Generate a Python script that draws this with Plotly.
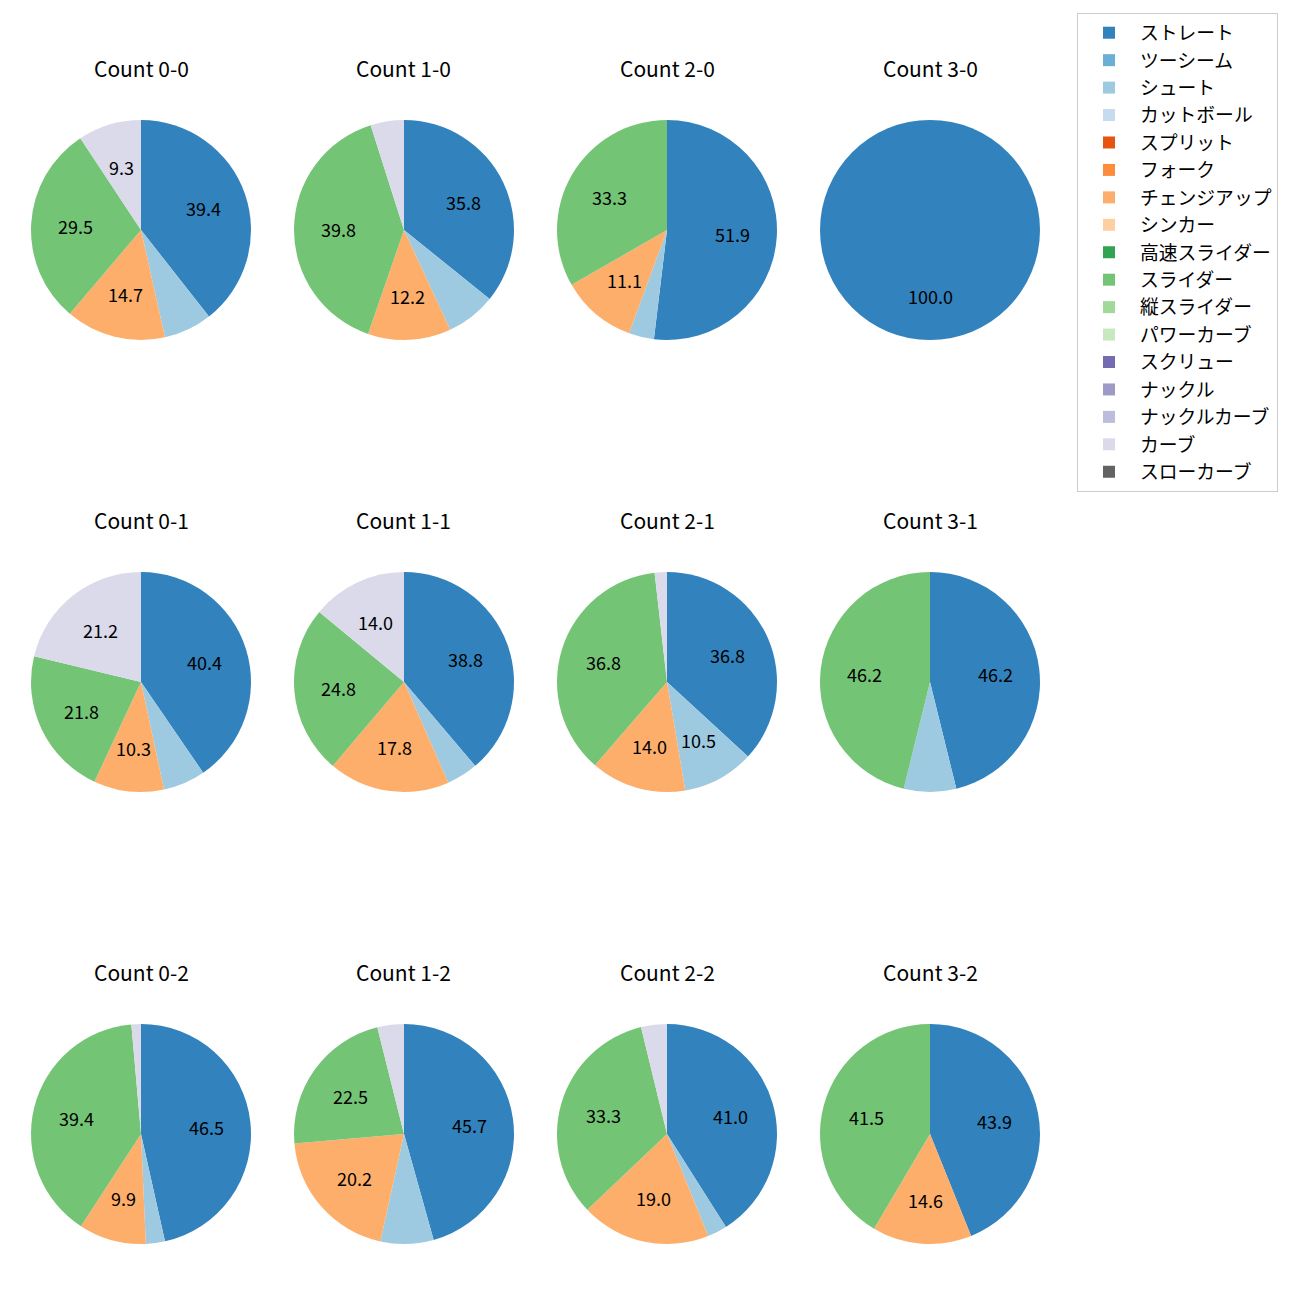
import math
import plotly.graph_objects as go

pitch_types = ["ストレート", "ツーシーム", "シュート", "カットボール", "スプリット", "フォーク",
               "チェンジアップ", "シンカー", "高速スライダー", "スライダー", "縦スライダー",
               "パワーカーブ", "スクリュー", "ナックル", "ナックルカーブ", "カーブ", "スローカーブ"]
colors = ["#3182bd", "#6baed6", "#9ecae1", "#c6dbef", "#e6550d", "#fd8d3c", "#fdae6b", "#fdd0a2",
          "#31a354", "#74c476", "#a1d99b", "#c7e9c0", "#756bb1", "#9e9ac8", "#bcbddc", "#dadaeb",
          "#636363"]

counts = ["0-0", "1-0", "2-0", "3-0",
          "0-1", "1-1", "2-1", "3-1",
          "0-2", "1-2", "2-2", "3-2"]

# percentages per count, order: straight, shoot, changeup, slider, curve
straight = [39.4, 35.8, 51.9, 100.0, 40.4, 38.8, 36.8, 46.2, 46.5, 45.7, 41.0, 43.9]
shoot    = [7.1, 7.3, 3.7, 0.0, 6.2, 4.6, 10.5, 7.7, 2.8, 7.8, 2.9, 0.0]
changeup = [14.7, 12.2, 11.1, 0.0, 10.3, 17.8, 14.0, 0.0, 9.9, 20.2, 19.0, 14.6]
slider   = [29.5, 39.8, 33.3, 0.0, 21.8, 24.8, 36.8, 46.2, 39.4, 22.5, 33.3, 41.5]
curve    = [9.3, 4.9, 0.0, 0.0, 21.2, 14.0, 1.8, 0.0, 1.4, 3.9, 3.8, 0.0]

label_threshold = 8.5

W, H = 1300, 1300
col_cx = [141, 404, 667, 930]
row_cy = [230, 682, 1134]
R = 110

fig = go.Figure()
annotations = []
for i, cnt in enumerate(counts):
    r, c = divmod(i, 4)
    cx, cy = col_cx[c], row_cy[r]
    vals = [0.0] * len(pitch_types)
    vals[0] = straight[i]
    vals[2] = shoot[i]
    vals[6] = changeup[i]
    vals[9] = slider[i]
    vals[15] = curve[i]
    fig.add_trace(go.Pie(
        labels=pitch_types, values=vals, sort=False, direction="clockwise", rotation=0,
        marker=dict(colors=colors, line=dict(width=0)),
        textinfo="none", hoverinfo="label+percent",
        domain=dict(x=[(cx - R) / W, (cx + R) / W], y=[1 - (cy + R) / H, 1 - (cy - R) / H]),
        showlegend=(i == 0),
    ))
    annotations.append(dict(text=f"Count {cnt}", x=cx / W, y=1 - (cy - 162) / H,
                            xref="paper", yref="paper", showarrow=False,
                            font=dict(size=21, color="#000000"), xanchor="center", yanchor="middle"))
    total = sum(vals)
    cum = 0.0
    for v in vals:
        if v > 0 and v / total * 100 >= label_threshold:
            mid = 90 - (cum + v / 2) / total * 360
            tx = cx + 0.6 * R * math.cos(math.radians(mid))
            ty = cy - 0.6 * R * math.sin(math.radians(mid))
            annotations.append(dict(text=f"{v / total * 100:.1f}", x=tx / W, y=1 - ty / H,
                                    xref="paper", yref="paper", showarrow=False,
                                    font=dict(size=18, color="#000000"),
                                    xanchor="center", yanchor="middle"))
        cum += v

fig.update_layout(
    width=W, height=H, margin=dict(l=0, r=0, t=0, b=0),
    paper_bgcolor="white", plot_bgcolor="white",
    font=dict(family="Noto Sans CJK JP, sans-serif", color="#000000"),
    annotations=annotations,
    legend=dict(x=1077 / W, y=1 - 13 / H, xanchor="left", yanchor="top",
                bordercolor="#cccccc", borderwidth=1, bgcolor="white",
                font=dict(size=18.8), traceorder="normal", itemwidth=52),
)
fig.write_html("out.html")
